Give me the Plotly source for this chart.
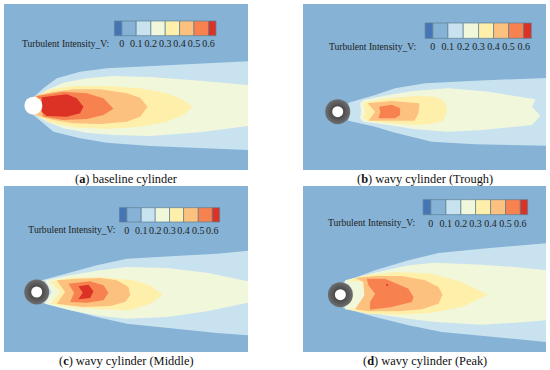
import plotly.graph_objects as go

# Contour-band outlines per panel, in each panel's own image-unit coordinates.
LEVEL_COLORS = ["#C9E2F0", "#F1F7DA", "#FEF0AB", "#FDC17F", "#F88150", "#DC3125"]
BG = "#85B2D5"
BAR_COLORS = ["#4575B4", BG, "#C9E2F0", "#F1F7DA", "#FEF0AB", "#FDC17F", "#F88150", "#DC3125"]
TICKS = ["0", "0.1", "0.2", "0.3", "0.4", "0.5", "0.6"]
BAR_TITLE = "Turbulent Intensity_V:"

A_BANDS = [
    [(100,292),(130,265),(170,235),(240,215),(320,205),(450,198),(600,191),(743,184),(743,450),(600,445),(450,438),(320,428),(240,415),(160,395),(130,370),(100,345)],
    [(110,290),(140,270),(190,248),(260,235),(340,228),(450,231),(600,242),(743,255),(743,378),(600,397),(450,408),(340,405),(260,398),(190,385),(140,365),(110,345)],
    [(105,290),(150,268),(220,258),(320,258),(420,265),(500,280),(550,300),(576,320),(550,345),(500,365),(420,380),(320,387),(220,382),(150,368),(105,345)],
    [(105,288),(160,275),(220,268),(300,268),(380,280),(420,293),(442,320),(420,350),(380,365),(300,372),(220,370),(160,360),(105,345)],
    [(110,288),(190,275),(260,280),(310,295),(340,326),(310,345),(260,357),(190,360),(130,350)],
    [(125,292),(200,283),(230,295),(250,320),(240,340),(200,350),(140,348),(125,335)],
]
B_BANDS = [
    [(220,308),(300,285),(360,265),(450,250),(600,242),(812,234),(812,437),(600,433),(470,425),(360,398),(300,380),(220,362)],
    [(255,310),(265,300),(340,285),(420,272),(520,265),(640,275),(700,285),(780,298),(770,320),(795,347),(770,375),(700,382),(620,390),(520,395),(420,388),(340,375),(265,365),(255,355),(258,335)],
    [(265,308),(340,295),(420,288),(480,290),(510,305),(515,335),(505,362),(470,372),(420,375),(340,370),(280,362),(265,355),(270,335)],
    [(278,310),(350,303),(433,310),(430,340),(418,362),(350,362),(280,362),(300,335)],
    [(312,320),(350,314),(375,325),(375,345),(360,355),(310,355),(316,335)],
]
C_BANDS = [
    [(125,285),(200,265),(290,240),(380,220),(520,212),(650,205),(743,196),(743,450),(650,443),(520,430),(380,415),(290,395),(200,372),(125,352)],
    [(135,285),(210,270),(300,255),(380,245),(500,248),(620,262),(743,288),(743,352),(620,378),(500,395),(380,400),(300,392),(210,375),(135,355),(155,320)],
    [(150,288),(210,278),(300,275),(400,285),(450,300),(487,328),(450,355),(390,375),(300,372),(210,365),(150,355),(180,320)],
    [(170,285),(230,280),(300,278),(350,285),(385,305),(390,330),(375,350),(330,362),(250,365),(170,355),(195,320)],
    [(205,295),(270,288),(310,300),(325,322),(310,345),(260,352),(210,350),(222,322)],
    [(235,303),(265,298),(280,318),(270,338),(235,342),(248,322)],
]
D_BANDS = [
    [(205,290),(300,255),(400,225),(490,203),(620,190),(812,174),(812,470),(650,455),(500,440),(400,420),(300,395),(205,368)],
    [(210,285),(300,262),(400,240),(480,232),(620,238),(720,245),(812,255),(812,405),(720,412),(620,418),(480,410),(400,400),(300,385),(210,372)],
    [(215,285),(280,268),(370,260),(470,265),(560,290),(638,328),(560,365),(470,382),(370,388),(280,385),(215,372),(260,368),(268,328),(262,290)],
    [(240,278),(300,272),(380,272),(450,285),(490,305),(502,328),(490,355),(440,372),(370,378),(280,378),(240,372),(268,330),(265,290)],
    [(275,280),(330,280),(365,295),(400,310),(415,335),(410,350),(350,365),(285,373),(285,350),(300,325),(280,300)],
]

A_EDGES = [343,365,408,452,495,538,581,625,647]
B_EDGES = [450,473,518,564,610,655,700,745,768]
C_EDGES = [358,380,423,465,508,550,594,636,658]
D_EDGES = [444,467,512,557,601,646,691,735,757]

PANELS = [
    dict(name="a", bands=A_BANDS, edges=A_EDGES, bar=(63,107), lab=134, title_x=66, xr=[12,743], yr=[510,12], px=(4,248,4,170), cyl=(100,317), ring=False, cap_x=126, cap_y=179, cap=" baseline cylinder"),
    dict(name="b", bands=B_BANDS, edges=B_EDGES, bar=(69,115), lab=143, title_x=162, xr=[84,812], yr=[510,12], px=(303,546,4,170), cyl=(188,335), ring=True, cap_x=425, cap_y=179, cap=" wavy cylinder (Trough)"),
    dict(name="c", bands=C_BANDS, edges=C_EDGES, bar=(67,110), lab=137, title_x=85, xr=[12,743], yr=[500,2], px=(4,248,186,352), cyl=(110,320), ring=True, cap_x=126, cap_y=361, cap=" wavy cylinder (Middle)"),
    dict(name="d", bands=D_BANDS, edges=D_EDGES, bar=(43,88), lab=116, title_x=159, xr=[84,812], yr=[500,2], px=(303,546,186,352), cyl=(196,328), ring=True, cap_x=425, cap_y=361, cap=" wavy cylinder (Peak)"),
]

W, H = 550, 370
SERIF = "Liberation Serif"
fig = go.Figure()
layout = dict(width=W, height=H, margin=dict(l=0, r=0, t=0, b=0), showlegend=False,
              paper_bgcolor="white", plot_bgcolor=BG)
annotations = []

for i, p in enumerate(PANELS, start=1):
    ax = dict(xaxis=f"x{i}", yaxis=f"y{i}")
    for band, color in zip(p["bands"], LEVEL_COLORS):
        xs = [q[0] for q in band] + [band[0][0]]
        ys = [q[1] for q in band] + [band[0][1]]
        fig.add_trace(go.Scatter(x=xs, y=ys, mode="lines", fill="toself", fillcolor=color,
                                 line=dict(width=0, color=color), hoverinfo="skip", **ax))
    if p["name"] == "d":
        fig.add_trace(go.Scatter(x=[336], y=[299], mode="markers", hoverinfo="skip",
                                 marker=dict(size=2, color="#DC3125"), **ax))
    # colour bar cells
    ed = p["edges"]
    y0, y1 = p["bar"]
    for k, c in enumerate(BAR_COLORS):
        fig.add_trace(go.Scatter(x=[ed[k], ed[k+1], ed[k+1], ed[k], ed[k]], y=[y0, y0, y1, y1, y0],
                                 mode="lines", fill="toself", fillcolor=c,
                                 line=dict(width=0.7, color="#5E7F92"), hoverinfo="skip", **ax))
    fig.add_trace(go.Scatter(x=ed[1:-1], y=[p["lab"]]*len(TICKS), mode="text", text=TICKS,
                             textposition="middle center", hoverinfo="skip",
                             textfont=dict(family=SERIF, size=10, color="#222"), **ax))
    fig.add_trace(go.Scatter(x=[p["title_x"]], y=[p["lab"]], mode="text", text=[BAR_TITLE],
                             textposition="middle right", hoverinfo="skip",
                             textfont=dict(family=SERIF, size=9.6, color="#222"), **ax))
    # cylinder
    cx, cy = p["cyl"]
    if p["ring"]:
        fig.add_trace(go.Scatter(x=[cx], y=[cy], mode="markers", hoverinfo="skip",
                                 marker=dict(size=25, color="#6E6E6E", line=dict(width=0),
                                             gradient=dict(type="radial", color="#2E2E2E")), **ax))
        fig.add_trace(go.Scatter(x=[cx], y=[cy], mode="markers", hoverinfo="skip",
                                 marker=dict(size=11, color="white", line=dict(width=0)), **ax))
    else:
        fig.add_trace(go.Scatter(x=[cx], y=[cy], mode="markers", hoverinfo="skip",
                                 marker=dict(size=18, color="white", line=dict(width=0)), **ax))
    x0, x1, t, b = p["px"]
    common = dict(visible=False, fixedrange=True)
    layout[f"xaxis{i}" if i > 1 else "xaxis"] = dict(domain=[x0/W, x1/W], range=p["xr"], anchor=f"y{i}", **common)
    layout[f"yaxis{i}" if i > 1 else "yaxis"] = dict(domain=[1-b/H, 1-t/H], range=p["yr"], anchor=f"x{i}", **common)
    annotations.append(dict(x=p["cap_x"]/W, y=1-p["cap_y"]/H, xref="paper", yref="paper",
                            text=f"(<b>{p['name']}</b>){p['cap']}", showarrow=False,
                            xanchor="center", yanchor="middle",
                            font=dict(family=SERIF, size=12.4, color="#111")))

layout["annotations"] = annotations
fig.update_layout(**layout)
fig.write_html("out.html", config=dict(displayModeBar=False),
               post_script="document.body.style.margin='0';document.body.style.overflow='hidden';")
